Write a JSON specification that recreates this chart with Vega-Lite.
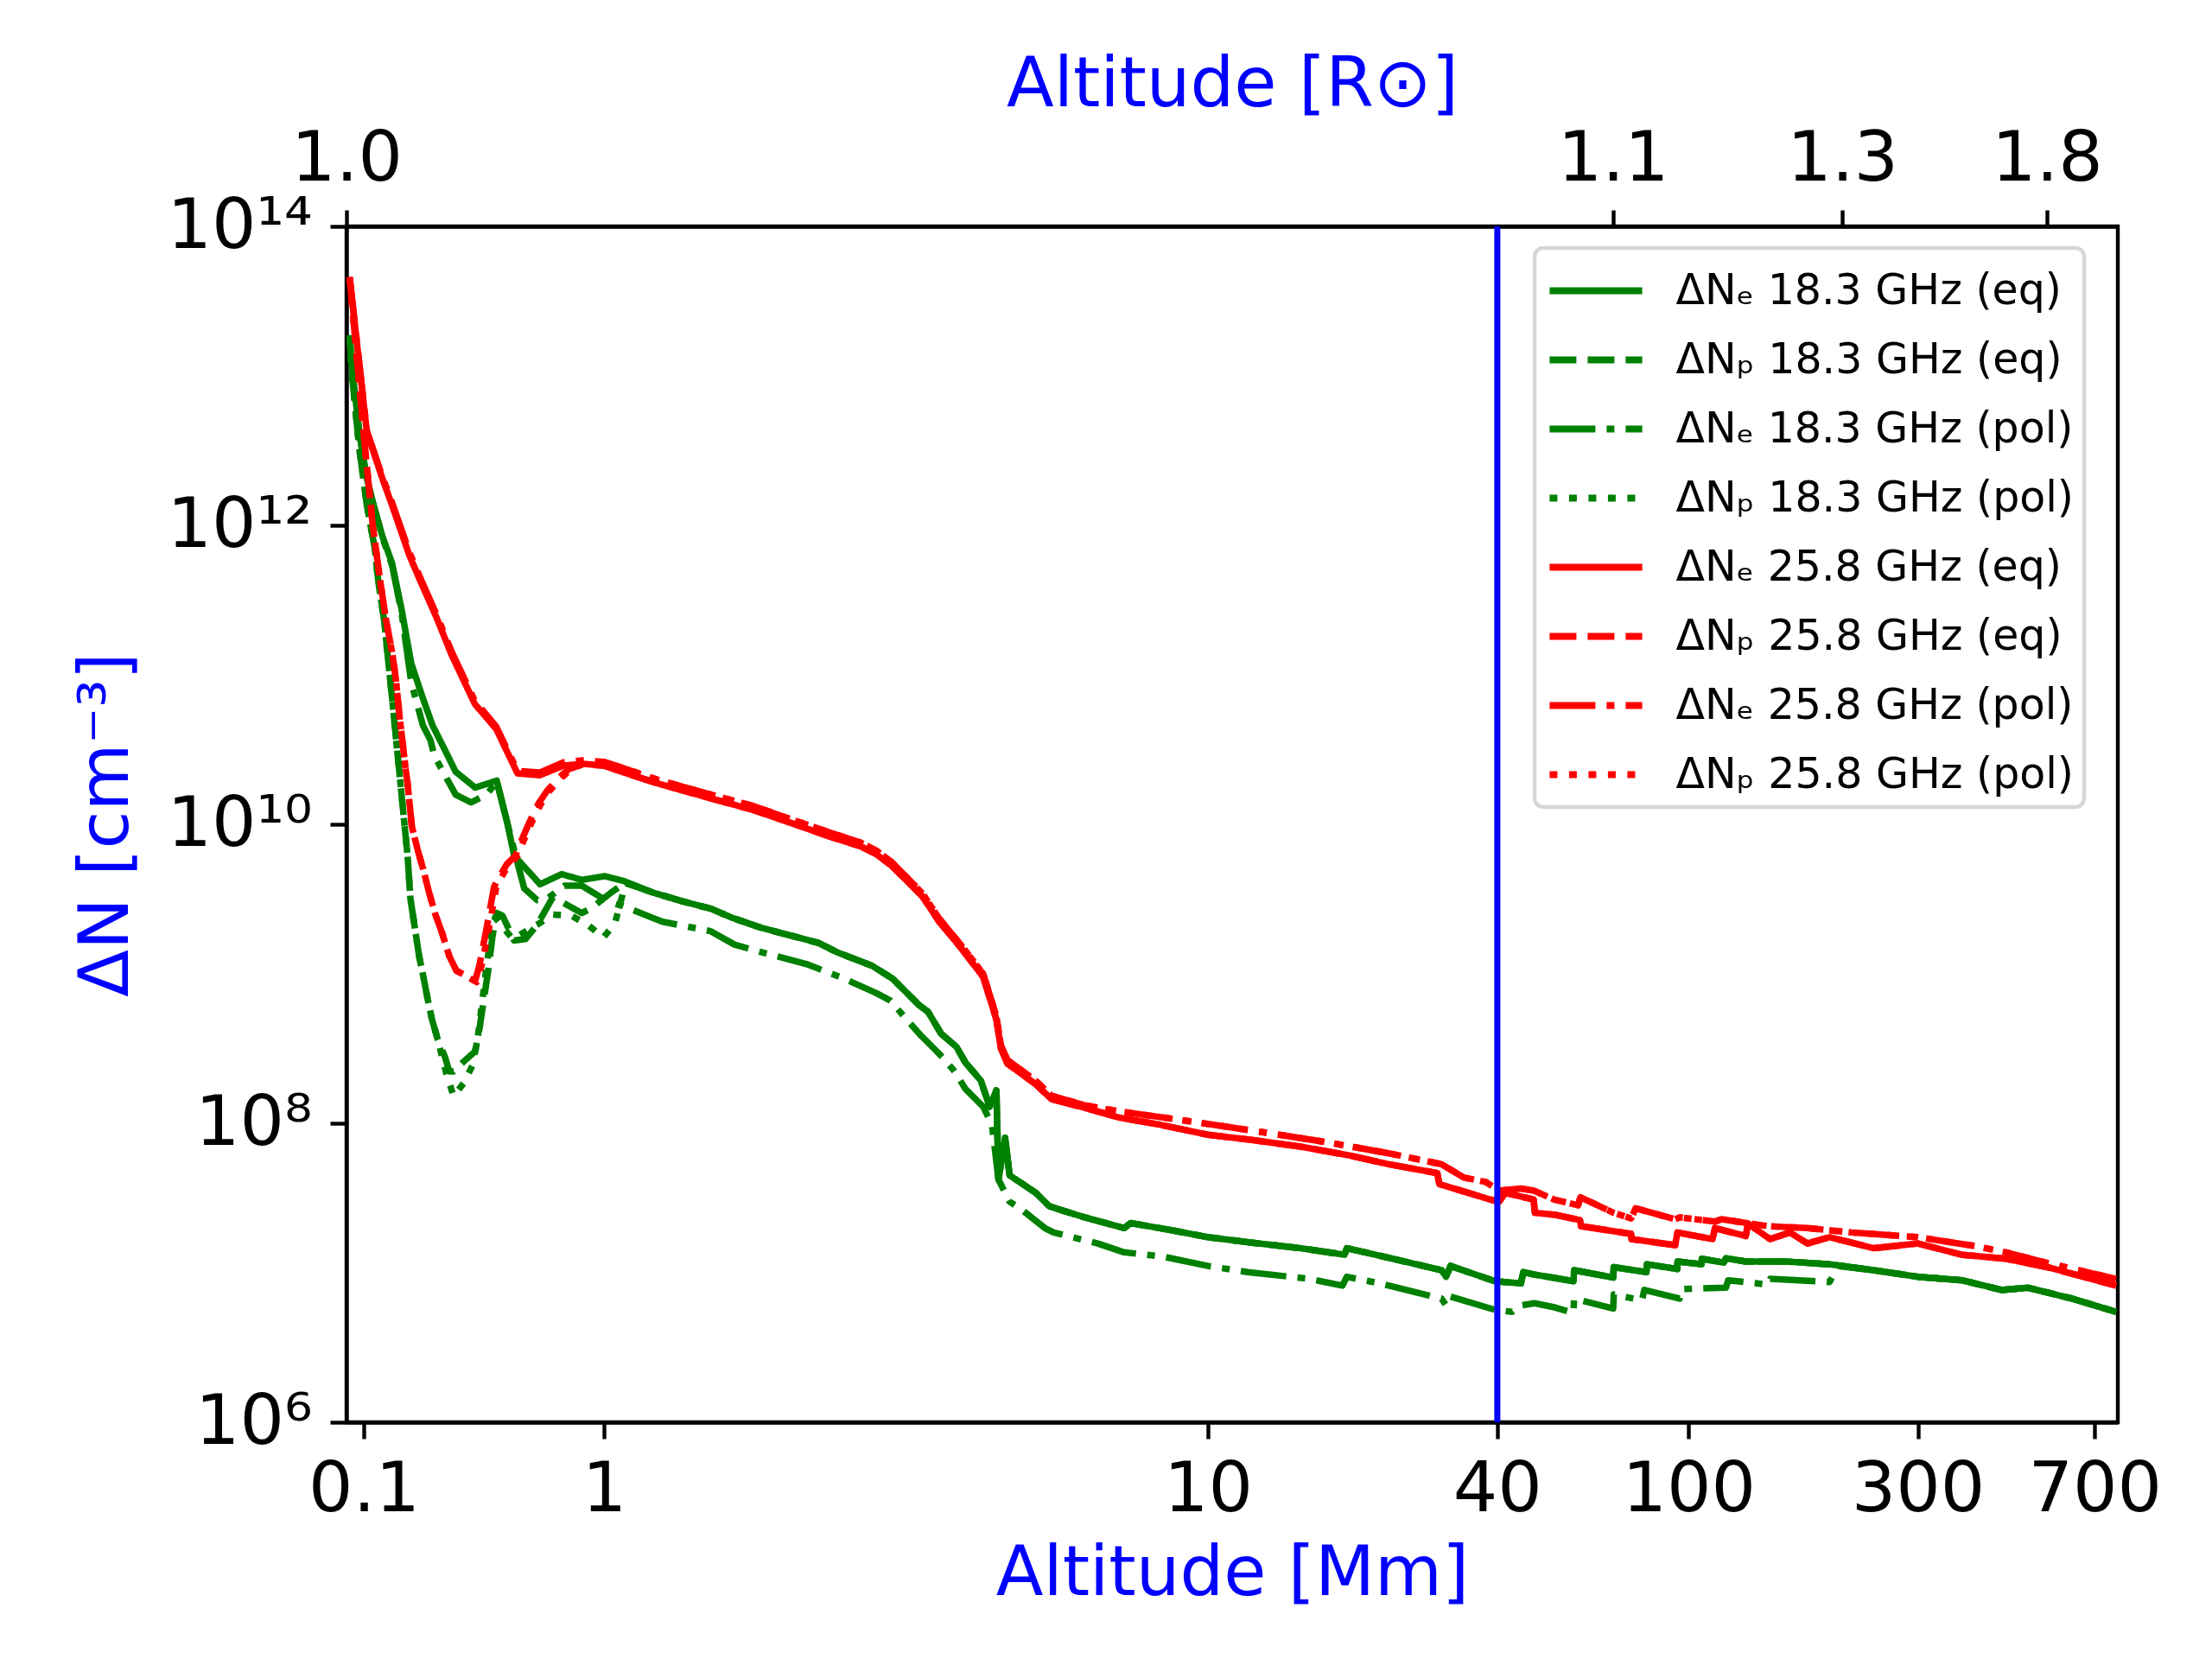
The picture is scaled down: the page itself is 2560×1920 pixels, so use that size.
{
"$schema": "https://vega.github.io/schema/vega-lite/v6.json",
"width": 2050, "height": 1384,
"autosize": {"type": "none"},
"padding": {"left": 401, "top": 262, "right": 109, "bottom": 274},
"background": "white",
"config": {
  "font": "DejaVu Sans",
  "view": {"stroke": "black", "strokeWidth": 4.4},
  "axis": {"grid": false, "domainColor": "black", "domainWidth": 4.4, "tickColor": "black", "tickWidth": 4.4, "tickSize": 19, "labelFont": "DejaVu Sans", "labelFontSize": 81, "labelColor": "black", "titleFont": "DejaVu Sans", "titleFontSize": 80, "titleColor": "#0000ff", "titleFontWeight": "normal", "labelFlush": false, "labelOverlap": false},
  "legend": {"strokeWidth": 4.4}
},
"layer": [
{
"data": {"values": [
{"s":"ΔNₑ 18.3 GHz (eq)","h":0.0873,"n":1.87e13},{"s":"ΔNₑ 18.3 GHz (eq)","h":0.0889,"n":1.23e13},{"s":"ΔNₑ 18.3 GHz (eq)","h":0.0957,"n":4.21e12},{"s":"ΔNₑ 18.3 GHz (eq)","h":0.103,"n":2.06e12},{"s":"ΔNₑ 18.3 GHz (eq)","h":0.1089,"n":1.44e12},{"s":"ΔNₑ 18.3 GHz (eq)","h":0.1195,"n":8.47e11},{"s":"ΔNₑ 18.3 GHz (eq)","h":0.1312,"n":5.58e11},{"s":"ΔNₑ 18.3 GHz (eq)","h":0.1437,"n":2.74e11},{"s":"ΔNₑ 18.3 GHz (eq)","h":0.1577,"n":1.19e11},{"s":"ΔNₑ 18.3 GHz (eq)","h":0.1762,"n":6.98e10},{"s":"ΔNₑ 18.3 GHz (eq)","h":0.1932,"n":4.6e10},{"s":"ΔNₑ 18.3 GHz (eq)","h":0.216,"n":3.22e10},{"s":"ΔNₑ 18.3 GHz (eq)","h":0.2412,"n":2.25e10},{"s":"ΔNₑ 18.3 GHz (eq)","h":0.291,"n":1.76e10},{"s":"ΔNₑ 18.3 GHz (eq)","h":0.358,"n":1.96e10},{"s":"ΔNₑ 18.3 GHz (eq)","h":0.3945,"n":1.05e10},{"s":"ΔNₑ 18.3 GHz (eq)","h":0.4225,"n":6.19e9},{"s":"ΔNₑ 18.3 GHz (eq)","h":0.5418,"n":3.97e9},{"s":"ΔNₑ 18.3 GHz (eq)","h":0.6664,"n":4.64e9},{"s":"ΔNₑ 18.3 GHz (eq)","h":0.8083,"n":4.25e9},{"s":"ΔNₑ 18.3 GHz (eq)","h":1.003,"n":4.5e9},{"s":"ΔNₑ 18.3 GHz (eq)","h":1.083,"n":4.15e9},
{"s":"ΔNₑ 18.3 GHz (eq)","h":1.209,"n":3.48e9},{"s":"ΔNₑ 18.3 GHz (eq)","h":1.35,"n":3.05e9},{"s":"ΔNₑ 18.3 GHz (eq)","h":1.506,"n":2.72e9},{"s":"ΔNₑ 18.3 GHz (eq)","h":1.626,"n":2.38e9},{"s":"ΔNₑ 18.3 GHz (eq)","h":1.815,"n":2.04e9},{"s":"ΔNₑ 18.3 GHz (eq)","h":2.264,"n":1.61e9},{"s":"ΔNₑ 18.3 GHz (eq)","h":2.436,"n":1.39e9},{"s":"ΔNₑ 18.3 GHz (eq)","h":2.781,"n":1.13e9},{"s":"ΔNₑ 18.3 GHz (eq)","h":3.006,"n":9.27e8},{"s":"ΔNₑ 18.3 GHz (eq)","h":3.325,"n":6.17e8},{"s":"ΔNₑ 18.3 GHz (eq)","h":3.439,"n":5.57e8},{"s":"ΔNₑ 18.3 GHz (eq)","h":3.617,"n":3.97e8},{"s":"ΔNₑ 18.3 GHz (eq)","h":3.835,"n":3.24e8},{"s":"ΔNₑ 18.3 GHz (eq)","h":3.966,"n":2.55e8},{"s":"ΔNₑ 18.3 GHz (eq)","h":4.207,"n":1.93e8},{"s":"ΔNₑ 18.3 GHz (eq)","h":4.351,"n":1.29e8},{"s":"ΔNₑ 18.3 GHz (eq)","h":4.464,"n":1.66e8},{"s":"ΔNₑ 18.3 GHz (eq)","h":4.5,"n":4.2e7},{"s":"ΔNₑ 18.3 GHz (eq)","h":4.616,"n":8e7},{"s":"ΔNₑ 18.3 GHz (eq)","h":4.694,"n":4.49e7},{"s":"ΔNₑ 18.3 GHz (eq)","h":5.19,"n":3.42e7},{"s":"ΔNₑ 18.3 GHz (eq)","h":5.46,"n":2.79e7},{"s":"ΔNₑ 18.3 GHz (eq)","h":5.741,"n":2.61e7},{"s":"ΔNₑ 18.3 GHz (eq)","h":6.245,"n":2.35e7},{"s":"ΔNₑ 18.3 GHz (eq)","h":7.264,"n":1.99e7},{"s":"ΔNₑ 18.3 GHz (eq)","h":7.45,"n":2.15e7},{"s":"ΔNₑ 18.3 GHz (eq)","h":8.74,"n":1.92e7},{"s":"ΔNₑ 18.3 GHz (eq)","h":10,"n":1.73e7},{"s":"ΔNₑ 18.3 GHz (eq)","h":12.35,"n":1.59e7},{"s":"ΔNₑ 18.3 GHz (eq)","h":15.58,"n":1.46e7},{"s":"ΔNₑ 18.3 GHz (eq)","h":19.25,"n":1.32e7},{"s":"ΔNₑ 18.3 GHz (eq)","h":19.45,"n":1.46e7},{"s":"ΔNₑ 18.3 GHz (eq)","h":24.28,"n":1.24e7},{"s":"ΔNₑ 18.3 GHz (eq)","h":30.64,"n":1.04e7},{"s":"ΔNₑ 18.3 GHz (eq)","h":31.3,"n":9.4e6},{"s":"ΔNₑ 18.3 GHz (eq)","h":31.97,"n":1.11e7},{"s":"ΔNₑ 18.3 GHz (eq)","h":39.5,"n":8.79e6},{"s":"ΔNₑ 18.3 GHz (eq)","h":44.8,"n":8.49e6},{"s":"ΔNₑ 18.3 GHz (eq)","h":45.3,"n":1.01e7},{"s":"ΔNₑ 18.3 GHz (eq)","h":47.76,"n":9.73e6},{"s":"ΔNₑ 18.3 GHz (eq)","h":57.6,"n":8.79e6},{"s":"ΔNₑ 18.3 GHz (eq)","h":57.8,"n":1.04e7},{"s":"ΔNₑ 18.3 GHz (eq)","h":69.7,"n":9.29e6},{"s":"ΔNₑ 18.3 GHz (eq)","h":69.9,"n":1.09e7},{"s":"ΔNₑ 18.3 GHz (eq)","h":81.7,"n":1.01e7},{"s":"ΔNₑ 18.3 GHz (eq)","h":81.9,"n":1.14e7},{"s":"ΔNₑ 18.3 GHz (eq)","h":94.7,"n":1.06e7},{"s":"ΔNₑ 18.3 GHz (eq)","h":94.9,"n":1.19e7},{"s":"ΔNₑ 18.3 GHz (eq)","h":106.4,"n":1.14e7},{"s":"ΔNₑ 18.3 GHz (eq)","h":106.6,"n":1.24e7},{"s":"ΔNₑ 18.3 GHz (eq)","h":118.4,"n":1.17e7},{"s":"ΔNₑ 18.3 GHz (eq)","h":119.6,"n":1.25e7},{"s":"ΔNₑ 18.3 GHz (eq)","h":131.5,"n":1.19e7},{"s":"ΔNₑ 18.3 GHz (eq)","h":159.1,"n":1.19e7},{"s":"ΔNₑ 18.3 GHz (eq)","h":196.5,"n":1.14e7},{"s":"ΔNₑ 18.3 GHz (eq)","h":242.8,"n":1.04e7},{"s":"ΔNₑ 18.3 GHz (eq)","h":299.9,"n":9.4e6},{"s":"ΔNₑ 18.3 GHz (eq)","h":370.5,"n":8.91e6},{"s":"ΔNₑ 18.3 GHz (eq)","h":448,"n":7.67e6},{"s":"ΔNₑ 18.3 GHz (eq)","h":508.4,"n":7.94e6},{"s":"ΔNₑ 18.3 GHz (eq)","h":628.5,"n":6.71e6},{"s":"ΔNₑ 18.3 GHz (eq)","h":776,"n":5.47e6},

{"s":"ΔNₚ 18.3 GHz (eq)","h":0.0873,"n":1.87e13},{"s":"ΔNₚ 18.3 GHz (eq)","h":0.0889,"n":1.09e13},{"s":"ΔNₚ 18.3 GHz (eq)","h":0.0957,"n":3.32e12},{"s":"ΔNₚ 18.3 GHz (eq)","h":0.103,"n":1.36e12},{"s":"ΔNₚ 18.3 GHz (eq)","h":0.111,"n":7.08e11},{"s":"ΔNₚ 18.3 GHz (eq)","h":0.1151,"n":4.15e11},{"s":"ΔNₚ 18.3 GHz (eq)","h":0.1217,"n":2.29e11},{"s":"ΔNₚ 18.3 GHz (eq)","h":0.1263,"n":1.26e11},{"s":"ΔNₚ 18.3 GHz (eq)","h":0.1312,"n":6.98e10},{"s":"ΔNₚ 18.3 GHz (eq)","h":0.136,"n":3.85e10},{"s":"ΔNₚ 18.3 GHz (eq)","h":0.1411,"n":2.13e10},{"s":"ΔNₚ 18.3 GHz (eq)","h":0.148,"n":9.64e9},{"s":"ΔNₚ 18.3 GHz (eq)","h":0.1522,"n":6.19e9},{"s":"ΔNₚ 18.3 GHz (eq)","h":0.1564,"n":3.18e9},{"s":"ΔNₚ 18.3 GHz (eq)","h":0.1631,"n":2.04e9},{"s":"ΔNₚ 18.3 GHz (eq)","h":0.17,"n":1.31e9},{"s":"ΔNₚ 18.3 GHz (eq)","h":0.177,"n":9.61e8},{"s":"ΔNₚ 18.3 GHz (eq)","h":0.1846,"n":6.73e8},{"s":"ΔNₚ 18.3 GHz (eq)","h":0.1924,"n":4.94e8},{"s":"ΔNₚ 18.3 GHz (eq)","h":0.2034,"n":3.62e8},{"s":"ΔNₚ 18.3 GHz (eq)","h":0.218,"n":2.77e8},{"s":"ΔNₚ 18.3 GHz (eq)","h":0.227,"n":2.22e8},{"s":"ΔNₚ 18.3 GHz (eq)","h":0.2366,"n":2.22e8},{"s":"ΔNₚ 18.3 GHz (eq)","h":0.2608,"n":2.59e8},{"s":"ΔNₚ 18.3 GHz (eq)","h":0.291,"n":3.03e8},{"s":"ΔNₚ 18.3 GHz (eq)","h":0.3034,"n":4.32e8},{"s":"ΔNₚ 18.3 GHz (eq)","h":0.3162,"n":6.73e8},{"s":"ΔNₚ 18.3 GHz (eq)","h":0.3296,"n":1.05e9},{"s":"ΔNₚ 18.3 GHz (eq)","h":0.3436,"n":1.79e9},{"s":"ΔNₚ 18.3 GHz (eq)","h":0.358,"n":2.55e9},{"s":"ΔNₚ 18.3 GHz (eq)","h":0.3785,"n":2.44e9},{"s":"ΔNₚ 18.3 GHz (eq)","h":0.4225,"n":1.67e9},{"s":"ΔNₚ 18.3 GHz (eq)","h":0.4719,"n":1.71e9},{"s":"ΔNₚ 18.3 GHz (eq)","h":0.5272,"n":2.13e9},{"s":"ΔNₚ 18.3 GHz (eq)","h":0.6134,"n":3.26e9},{"s":"ΔNₚ 18.3 GHz (eq)","h":0.8083,"n":2.55e9},{"s":"ΔNₚ 18.3 GHz (eq)","h":0.8905,"n":2.76e9},{"s":"ΔNₚ 18.3 GHz (eq)","h":1.026,"n":3.48e9},{"s":"ΔNₚ 18.3 GHz (eq)","h":1.083,"n":4.06e9},
{"s":"ΔNₚ 18.3 GHz (eq)","h":1.209,"n":3.48e9},{"s":"ΔNₚ 18.3 GHz (eq)","h":1.35,"n":3.05e9},{"s":"ΔNₚ 18.3 GHz (eq)","h":1.506,"n":2.72e9},{"s":"ΔNₚ 18.3 GHz (eq)","h":1.626,"n":2.38e9},{"s":"ΔNₚ 18.3 GHz (eq)","h":1.815,"n":2.04e9},{"s":"ΔNₚ 18.3 GHz (eq)","h":2.264,"n":1.61e9},{"s":"ΔNₚ 18.3 GHz (eq)","h":2.436,"n":1.39e9},{"s":"ΔNₚ 18.3 GHz (eq)","h":2.781,"n":1.13e9},{"s":"ΔNₚ 18.3 GHz (eq)","h":3.006,"n":9.27e8},{"s":"ΔNₚ 18.3 GHz (eq)","h":3.325,"n":6.17e8},{"s":"ΔNₚ 18.3 GHz (eq)","h":3.439,"n":5.57e8},{"s":"ΔNₚ 18.3 GHz (eq)","h":3.617,"n":3.97e8},{"s":"ΔNₚ 18.3 GHz (eq)","h":3.835,"n":3.24e8},{"s":"ΔNₚ 18.3 GHz (eq)","h":3.966,"n":2.55e8},{"s":"ΔNₚ 18.3 GHz (eq)","h":4.207,"n":1.93e8},{"s":"ΔNₚ 18.3 GHz (eq)","h":4.351,"n":1.29e8},{"s":"ΔNₚ 18.3 GHz (eq)","h":4.464,"n":1.66e8},{"s":"ΔNₚ 18.3 GHz (eq)","h":4.5,"n":4.2e7},{"s":"ΔNₚ 18.3 GHz (eq)","h":4.616,"n":8e7},{"s":"ΔNₚ 18.3 GHz (eq)","h":4.694,"n":4.49e7},{"s":"ΔNₚ 18.3 GHz (eq)","h":5.19,"n":3.42e7},{"s":"ΔNₚ 18.3 GHz (eq)","h":5.46,"n":2.79e7},{"s":"ΔNₚ 18.3 GHz (eq)","h":5.741,"n":2.61e7},{"s":"ΔNₚ 18.3 GHz (eq)","h":6.245,"n":2.35e7},{"s":"ΔNₚ 18.3 GHz (eq)","h":7.264,"n":1.99e7},{"s":"ΔNₚ 18.3 GHz (eq)","h":7.45,"n":2.15e7},{"s":"ΔNₚ 18.3 GHz (eq)","h":8.74,"n":1.92e7},{"s":"ΔNₚ 18.3 GHz (eq)","h":10,"n":1.73e7},{"s":"ΔNₚ 18.3 GHz (eq)","h":12.35,"n":1.59e7},{"s":"ΔNₚ 18.3 GHz (eq)","h":15.58,"n":1.46e7},{"s":"ΔNₚ 18.3 GHz (eq)","h":19.25,"n":1.32e7},{"s":"ΔNₚ 18.3 GHz (eq)","h":19.45,"n":1.46e7},{"s":"ΔNₚ 18.3 GHz (eq)","h":24.28,"n":1.24e7},{"s":"ΔNₚ 18.3 GHz (eq)","h":30.64,"n":1.04e7},{"s":"ΔNₚ 18.3 GHz (eq)","h":31.3,"n":9.4e6},{"s":"ΔNₚ 18.3 GHz (eq)","h":31.97,"n":1.11e7},{"s":"ΔNₚ 18.3 GHz (eq)","h":39.5,"n":8.79e6},{"s":"ΔNₚ 18.3 GHz (eq)","h":44.8,"n":8.49e6},{"s":"ΔNₚ 18.3 GHz (eq)","h":45.3,"n":1.01e7},{"s":"ΔNₚ 18.3 GHz (eq)","h":47.76,"n":9.73e6},{"s":"ΔNₚ 18.3 GHz (eq)","h":57.6,"n":8.79e6},{"s":"ΔNₚ 18.3 GHz (eq)","h":57.8,"n":1.04e7},{"s":"ΔNₚ 18.3 GHz (eq)","h":69.7,"n":9.29e6},{"s":"ΔNₚ 18.3 GHz (eq)","h":69.9,"n":1.09e7},{"s":"ΔNₚ 18.3 GHz (eq)","h":81.7,"n":1.01e7},{"s":"ΔNₚ 18.3 GHz (eq)","h":81.9,"n":1.14e7},{"s":"ΔNₚ 18.3 GHz (eq)","h":94.7,"n":1.06e7},{"s":"ΔNₚ 18.3 GHz (eq)","h":94.9,"n":1.19e7},{"s":"ΔNₚ 18.3 GHz (eq)","h":106.4,"n":1.14e7},{"s":"ΔNₚ 18.3 GHz (eq)","h":106.6,"n":1.24e7},{"s":"ΔNₚ 18.3 GHz (eq)","h":118.4,"n":1.17e7},{"s":"ΔNₚ 18.3 GHz (eq)","h":119.6,"n":1.25e7},{"s":"ΔNₚ 18.3 GHz (eq)","h":131.5,"n":1.19e7},{"s":"ΔNₚ 18.3 GHz (eq)","h":159.1,"n":1.19e7},{"s":"ΔNₚ 18.3 GHz (eq)","h":196.5,"n":1.14e7},{"s":"ΔNₚ 18.3 GHz (eq)","h":242.8,"n":1.04e7},{"s":"ΔNₚ 18.3 GHz (eq)","h":299.9,"n":9.4e6},{"s":"ΔNₚ 18.3 GHz (eq)","h":370.5,"n":8.91e6},{"s":"ΔNₚ 18.3 GHz (eq)","h":448,"n":7.67e6},{"s":"ΔNₚ 18.3 GHz (eq)","h":508.4,"n":7.94e6},{"s":"ΔNₚ 18.3 GHz (eq)","h":628.5,"n":6.71e6},{"s":"ΔNₚ 18.3 GHz (eq)","h":776,"n":5.47e6},

{"s":"ΔNₑ 18.3 GHz (pol)","h":0.0873,"n":1.87e13},{"s":"ΔNₑ 18.3 GHz (pol)","h":0.0889,"n":1.23e13},{"s":"ΔNₑ 18.3 GHz (pol)","h":0.0957,"n":4.21e12},{"s":"ΔNₑ 18.3 GHz (pol)","h":0.103,"n":2.06e12},{"s":"ΔNₑ 18.3 GHz (pol)","h":0.1089,"n":1.44e12},{"s":"ΔNₑ 18.3 GHz (pol)","h":0.1195,"n":8.3e11},{"s":"ΔNₑ 18.3 GHz (pol)","h":0.1312,"n":5.4e11},{"s":"ΔNₑ 18.3 GHz (pol)","h":0.1437,"n":2.6e11},{"s":"ΔNₑ 18.3 GHz (pol)","h":0.1577,"n":8.87e10},{"s":"ΔNₑ 18.3 GHz (pol)","h":0.1762,"n":4.6e10},{"s":"ΔNₑ 18.3 GHz (pol)","h":0.1897,"n":3.64e10},{"s":"ΔNₑ 18.3 GHz (pol)","h":0.1969,"n":2.86e10},{"s":"ΔNₑ 18.3 GHz (pol)","h":0.2412,"n":1.58e10},{"s":"ΔNₑ 18.3 GHz (pol)","h":0.2798,"n":1.4e10},{"s":"ΔNₑ 18.3 GHz (pol)","h":0.324,"n":1.58e10},{"s":"ΔNₑ 18.3 GHz (pol)","h":0.358,"n":1.92e10},{"s":"ΔNₑ 18.3 GHz (pol)","h":0.4285,"n":6.19e9},{"s":"ΔNₑ 18.3 GHz (pol)","h":0.4656,"n":3.72e9},{"s":"ΔNₑ 18.3 GHz (pol)","h":0.5272,"n":3.11e9},{"s":"ΔNₑ 18.3 GHz (pol)","h":0.58,"n":3.18e9},{"s":"ΔNₑ 18.3 GHz (pol)","h":0.6848,"n":3.89e9},{"s":"ΔNₑ 18.3 GHz (pol)","h":0.8083,"n":3.89e9},{"s":"ΔNₑ 18.3 GHz (pol)","h":1.014,"n":3.05e9},{"s":"ΔNₑ 18.3 GHz (pol)","h":1.072,"n":2.85e9},{"s":"ΔNₑ 18.3 GHz (pol)","h":1.25,"n":2.23e9},{"s":"ΔNₑ 18.3 GHz (pol)","h":1.5,"n":1.93e9},{"s":"ΔNₑ 18.3 GHz (pol)","h":1.644,"n":1.57e9},{"s":"ΔNₑ 18.3 GHz (pol)","h":1.815,"n":1.4e9},{"s":"ΔNₑ 18.3 GHz (pol)","h":2.166,"n":1.16e9},{"s":"ΔNₑ 18.3 GHz (pol)","h":2.472,"n":9.44e8},{"s":"ΔNₑ 18.3 GHz (pol)","h":2.82,"n":7.45e8},{"s":"ΔNₑ 18.3 GHz (pol)","h":2.981,"n":6.61e8},{"s":"ΔNₑ 18.3 GHz (pol)","h":3.135,"n":5.21e8},{"s":"ΔNₑ 18.3 GHz (pol)","h":3.353,"n":3.84e8},{"s":"ΔNₑ 18.3 GHz (pol)","h":3.497,"n":3.24e8},{"s":"ΔNₑ 18.3 GHz (pol)","h":3.647,"n":2.73e8},{"s":"ΔNₑ 18.3 GHz (pol)","h":3.804,"n":2.23e8},{"s":"ΔNₑ 18.3 GHz (pol)","h":3.966,"n":1.7e8},{"s":"ΔNₑ 18.3 GHz (pol)","h":4.245,"n":1.29e8},{"s":"ΔNₑ 18.3 GHz (pol)","h":4.388,"n":9.8e7},{"s":"ΔNₑ 18.3 GHz (pol)","h":4.5,"n":4.2e7},{"s":"ΔNₑ 18.3 GHz (pol)","h":4.694,"n":2.99e7},{"s":"ΔNₑ 18.3 GHz (pol)","h":4.936,"n":2.61e7},{"s":"ΔNₑ 18.3 GHz (pol)","h":5.37,"n":1.99e7},{"s":"ΔNₑ 18.3 GHz (pol)","h":5.553,"n":1.86e7},{"s":"ΔNₑ 18.3 GHz (pol)","h":6.57,"n":1.57e7},{"s":"ΔNₑ 18.3 GHz (pol)","h":7.264,"n":1.37e7},{"s":"ΔNₑ 18.3 GHz (pol)","h":8.45,"n":1.28e7},{"s":"ΔNₑ 18.3 GHz (pol)","h":10,"n":1.11e7},{"s":"ΔNₑ 18.3 GHz (pol)","h":12.1,"n":1.01e7},{"s":"ΔNₑ 18.3 GHz (pol)","h":16.26,"n":9.1e6},{"s":"ΔNₑ 18.3 GHz (pol)","h":19.05,"n":8.2e6},{"s":"ΔNₑ 18.3 GHz (pol)","h":19.45,"n":9.4e6},{"s":"ΔNₑ 18.3 GHz (pol)","h":22.8,"n":8.49e6},{"s":"ΔNₑ 18.3 GHz (pol)","h":30.64,"n":6.71e6},{"s":"ΔNₑ 18.3 GHz (pol)","h":31.3,"n":6.05e6},{"s":"ΔNₑ 18.3 GHz (pol)","h":31.97,"n":6.93e6},{"s":"ΔNₑ 18.3 GHz (pol)","h":39.5,"n":5.66e6},{"s":"ΔNₑ 18.3 GHz (pol)","h":42.96,"n":5.47e6},{"s":"ΔNₑ 18.3 GHz (pol)","h":44.8,"n":6.05e6},{"s":"ΔNₑ 18.3 GHz (pol)","h":47.76,"n":6.26e6},{"s":"ΔNₑ 18.3 GHz (pol)","h":52.85,"n":5.85e6},{"s":"ΔNₑ 18.3 GHz (pol)","h":57.6,"n":5.39e6},{"s":"ΔNₑ 18.3 GHz (pol)","h":57.8,"n":6.71e6},{"s":"ΔNₑ 18.3 GHz (pol)","h":69.7,"n":5.77e6},{"s":"ΔNₑ 18.3 GHz (pol)","h":69.9,"n":7.16e6},{"s":"ΔNₑ 18.3 GHz (pol)","h":80,"n":6.53e6},{"s":"ΔNₑ 18.3 GHz (pol)","h":80.9,"n":7.67e6},{"s":"ΔNₑ 18.3 GHz (pol)","h":95.8,"n":6.71e6},{"s":"ΔNₑ 18.3 GHz (pol)","h":96.8,"n":7.78e6},{"s":"ΔNₑ 18.3 GHz (pol)","h":119.6,"n":7.94e6},{"s":"ΔNₑ 18.3 GHz (pol)","h":120.9,"n":8.91e6},{"s":"ΔNₑ 18.3 GHz (pol)","h":146.2,"n":8.34e6},{"s":"ΔNₑ 18.3 GHz (pol)","h":147.8,"n":9.1e6},{"s":"ΔNₑ 18.3 GHz (pol)","h":196.5,"n":8.67e6},{"s":"ΔNₑ 18.3 GHz (pol)","h":205,"n":1.11e7},{"s":"ΔNₑ 18.3 GHz (pol)","h":242.8,"n":1.04e7},{"s":"ΔNₑ 18.3 GHz (pol)","h":299.9,"n":9.4e6},{"s":"ΔNₑ 18.3 GHz (pol)","h":370.5,"n":8.91e6},{"s":"ΔNₑ 18.3 GHz (pol)","h":448,"n":7.67e6},{"s":"ΔNₑ 18.3 GHz (pol)","h":508.4,"n":7.94e6},{"s":"ΔNₑ 18.3 GHz (pol)","h":628.5,"n":6.71e6},{"s":"ΔNₑ 18.3 GHz (pol)","h":776,"n":5.47e6},

{"s":"ΔNₚ 18.3 GHz (pol)","h":0.0873,"n":1.87e13},{"s":"ΔNₚ 18.3 GHz (pol)","h":0.0889,"n":1.09e13},{"s":"ΔNₚ 18.3 GHz (pol)","h":0.0957,"n":3.32e12},{"s":"ΔNₚ 18.3 GHz (pol)","h":0.103,"n":1.36e12},{"s":"ΔNₚ 18.3 GHz (pol)","h":0.111,"n":7.08e11},{"s":"ΔNₚ 18.3 GHz (pol)","h":0.1151,"n":4.15e11},{"s":"ΔNₚ 18.3 GHz (pol)","h":0.1217,"n":2.29e11},{"s":"ΔNₚ 18.3 GHz (pol)","h":0.1263,"n":1.26e11},{"s":"ΔNₚ 18.3 GHz (pol)","h":0.1312,"n":6.98e10},{"s":"ΔNₚ 18.3 GHz (pol)","h":0.136,"n":3.85e10},{"s":"ΔNₚ 18.3 GHz (pol)","h":0.1411,"n":2.13e10},{"s":"ΔNₚ 18.3 GHz (pol)","h":0.148,"n":9.64e9},{"s":"ΔNₚ 18.3 GHz (pol)","h":0.1522,"n":6.19e9},{"s":"ΔNₚ 18.3 GHz (pol)","h":0.1564,"n":3.18e9},{"s":"ΔNₚ 18.3 GHz (pol)","h":0.1631,"n":2.04e9},{"s":"ΔNₚ 18.3 GHz (pol)","h":0.17,"n":1.31e9},{"s":"ΔNₚ 18.3 GHz (pol)","h":0.177,"n":9.61e8},{"s":"ΔNₚ 18.3 GHz (pol)","h":0.1846,"n":6.73e8},{"s":"ΔNₚ 18.3 GHz (pol)","h":0.1924,"n":4.94e8},{"s":"ΔNₚ 18.3 GHz (pol)","h":0.2034,"n":3.62e8},{"s":"ΔNₚ 18.3 GHz (pol)","h":0.2209,"n":2.13e8},{"s":"ΔNₚ 18.3 GHz (pol)","h":0.2366,"n":1.52e8},{"s":"ΔNₚ 18.3 GHz (pol)","h":0.2608,"n":1.86e8},{"s":"ΔNₚ 18.3 GHz (pol)","h":0.2833,"n":2.43e8},{"s":"ΔNₚ 18.3 GHz (pol)","h":0.2984,"n":3.78e8},{"s":"ΔNₚ 18.3 GHz (pol)","h":0.311,"n":6.44e8},{"s":"ΔNₚ 18.3 GHz (pol)","h":0.324,"n":1.1e9},{"s":"ΔNₚ 18.3 GHz (pol)","h":0.3379,"n":1.8e9},{"s":"ΔNₚ 18.3 GHz (pol)","h":0.3523,"n":2.38e9},{"s":"ΔNₚ 18.3 GHz (pol)","h":0.4168,"n":1.71e9},{"s":"ΔNₚ 18.3 GHz (pol)","h":0.5272,"n":2.13e9},{"s":"ΔNₚ 18.3 GHz (pol)","h":0.6134,"n":2.49e9},{"s":"ΔNₚ 18.3 GHz (pol)","h":0.7339,"n":2.44e9},{"s":"ΔNₚ 18.3 GHz (pol)","h":0.8545,"n":2.13e9},{"s":"ΔNₚ 18.3 GHz (pol)","h":0.9942,"n":1.75e9},{"s":"ΔNₚ 18.3 GHz (pol)","h":1.043,"n":2.18e9},{"s":"ΔNₚ 18.3 GHz (pol)","h":1.086,"n":4.05e9},
{"s":"ΔNₚ 18.3 GHz (pol)","h":1.209,"n":3.48e9},{"s":"ΔNₚ 18.3 GHz (pol)","h":1.35,"n":3.05e9},{"s":"ΔNₚ 18.3 GHz (pol)","h":1.506,"n":2.72e9},{"s":"ΔNₚ 18.3 GHz (pol)","h":1.626,"n":2.38e9},{"s":"ΔNₚ 18.3 GHz (pol)","h":1.815,"n":2.04e9},{"s":"ΔNₚ 18.3 GHz (pol)","h":2.264,"n":1.61e9},{"s":"ΔNₚ 18.3 GHz (pol)","h":2.436,"n":1.39e9},{"s":"ΔNₚ 18.3 GHz (pol)","h":2.781,"n":1.13e9},{"s":"ΔNₚ 18.3 GHz (pol)","h":3.006,"n":9.27e8},{"s":"ΔNₚ 18.3 GHz (pol)","h":3.325,"n":6.17e8},{"s":"ΔNₚ 18.3 GHz (pol)","h":3.439,"n":5.57e8},{"s":"ΔNₚ 18.3 GHz (pol)","h":3.617,"n":3.97e8},{"s":"ΔNₚ 18.3 GHz (pol)","h":3.835,"n":3.24e8},{"s":"ΔNₚ 18.3 GHz (pol)","h":3.966,"n":2.55e8},{"s":"ΔNₚ 18.3 GHz (pol)","h":4.207,"n":1.93e8},{"s":"ΔNₚ 18.3 GHz (pol)","h":4.351,"n":1.29e8},{"s":"ΔNₚ 18.3 GHz (pol)","h":4.464,"n":1.66e8},{"s":"ΔNₚ 18.3 GHz (pol)","h":4.5,"n":4.2e7},{"s":"ΔNₚ 18.3 GHz (pol)","h":4.616,"n":8e7},{"s":"ΔNₚ 18.3 GHz (pol)","h":4.694,"n":4.49e7},{"s":"ΔNₚ 18.3 GHz (pol)","h":5.19,"n":3.42e7},{"s":"ΔNₚ 18.3 GHz (pol)","h":5.46,"n":2.79e7},{"s":"ΔNₚ 18.3 GHz (pol)","h":5.741,"n":2.61e7},{"s":"ΔNₚ 18.3 GHz (pol)","h":6.245,"n":2.35e7},{"s":"ΔNₚ 18.3 GHz (pol)","h":7.264,"n":1.99e7},{"s":"ΔNₚ 18.3 GHz (pol)","h":7.45,"n":2.15e7},{"s":"ΔNₚ 18.3 GHz (pol)","h":8.74,"n":1.92e7},{"s":"ΔNₚ 18.3 GHz (pol)","h":10,"n":1.73e7},{"s":"ΔNₚ 18.3 GHz (pol)","h":12.35,"n":1.59e7},{"s":"ΔNₚ 18.3 GHz (pol)","h":15.58,"n":1.46e7},{"s":"ΔNₚ 18.3 GHz (pol)","h":19.25,"n":1.32e7},{"s":"ΔNₚ 18.3 GHz (pol)","h":19.45,"n":1.46e7},{"s":"ΔNₚ 18.3 GHz (pol)","h":24.28,"n":1.24e7},{"s":"ΔNₚ 18.3 GHz (pol)","h":30.64,"n":1.04e7},{"s":"ΔNₚ 18.3 GHz (pol)","h":31.3,"n":9.4e6},{"s":"ΔNₚ 18.3 GHz (pol)","h":31.97,"n":1.11e7},{"s":"ΔNₚ 18.3 GHz (pol)","h":39.5,"n":8.79e6},{"s":"ΔNₚ 18.3 GHz (pol)","h":44.8,"n":8.49e6},{"s":"ΔNₚ 18.3 GHz (pol)","h":45.3,"n":1.01e7},{"s":"ΔNₚ 18.3 GHz (pol)","h":47.76,"n":9.73e6},{"s":"ΔNₚ 18.3 GHz (pol)","h":57.6,"n":8.79e6},{"s":"ΔNₚ 18.3 GHz (pol)","h":57.8,"n":1.04e7},{"s":"ΔNₚ 18.3 GHz (pol)","h":69.7,"n":9.29e6},{"s":"ΔNₚ 18.3 GHz (pol)","h":69.9,"n":1.09e7},{"s":"ΔNₚ 18.3 GHz (pol)","h":81.7,"n":1.01e7},{"s":"ΔNₚ 18.3 GHz (pol)","h":81.9,"n":1.14e7},{"s":"ΔNₚ 18.3 GHz (pol)","h":94.7,"n":1.06e7},{"s":"ΔNₚ 18.3 GHz (pol)","h":94.9,"n":1.19e7},{"s":"ΔNₚ 18.3 GHz (pol)","h":106.4,"n":1.14e7},{"s":"ΔNₚ 18.3 GHz (pol)","h":106.6,"n":1.24e7},{"s":"ΔNₚ 18.3 GHz (pol)","h":118.4,"n":1.17e7},{"s":"ΔNₚ 18.3 GHz (pol)","h":119.6,"n":1.25e7},{"s":"ΔNₚ 18.3 GHz (pol)","h":131.5,"n":1.19e7},{"s":"ΔNₚ 18.3 GHz (pol)","h":159.1,"n":1.19e7},{"s":"ΔNₚ 18.3 GHz (pol)","h":196.5,"n":1.14e7},{"s":"ΔNₚ 18.3 GHz (pol)","h":242.8,"n":1.04e7},{"s":"ΔNₚ 18.3 GHz (pol)","h":299.9,"n":9.4e6},{"s":"ΔNₚ 18.3 GHz (pol)","h":370.5,"n":8.91e6},{"s":"ΔNₚ 18.3 GHz (pol)","h":448,"n":7.67e6},{"s":"ΔNₚ 18.3 GHz (pol)","h":508.4,"n":7.94e6},{"s":"ΔNₚ 18.3 GHz (pol)","h":628.5,"n":6.71e6},{"s":"ΔNₚ 18.3 GHz (pol)","h":776,"n":5.47e6},

{"s":"ΔNₑ 25.8 GHz (eq)","h":0.0873,"n":4.54e13},{"s":"ΔNₑ 25.8 GHz (eq)","h":0.103,"n":4.21e12},{"s":"ΔNₑ 25.8 GHz (eq)","h":0.1195,"n":2.06e12},{"s":"ΔNₑ 25.8 GHz (eq)","h":0.1312,"n":1.36e12},{"s":"ΔNₑ 25.8 GHz (eq)","h":0.1549,"n":6.28e11},{"s":"ΔNₑ 25.8 GHz (eq)","h":0.173,"n":4.15e11},{"s":"ΔNₑ 25.8 GHz (eq)","h":0.2005,"n":2.43e11},{"s":"ΔNₑ 25.8 GHz (eq)","h":0.233,"n":1.34e11},{"s":"ΔNₑ 25.8 GHz (eq)","h":0.29,"n":6.38e10},{"s":"ΔNₑ 25.8 GHz (eq)","h":0.356,"n":4.34e10},{"s":"ΔNₑ 25.8 GHz (eq)","h":0.4365,"n":2.19e10},{"s":"ΔNₑ 25.8 GHz (eq)","h":0.54,"n":2.13e10},{"s":"ΔNₑ 25.8 GHz (eq)","h":0.679,"n":2.47e10},{"s":"ΔNₑ 25.8 GHz (eq)","h":0.817,"n":2.54e10},
{"s":"ΔNₑ 25.8 GHz (eq)","h":1.0,"n":2.47e10},{"s":"ΔNₑ 25.8 GHz (eq)","h":1.069,"n":2.25e10},{"s":"ΔNₑ 25.8 GHz (eq)","h":1.22,"n":1.89e10},{"s":"ΔNₑ 25.8 GHz (eq)","h":1.522,"n":1.47e10},{"s":"ΔNₑ 25.8 GHz (eq)","h":1.763,"n":1.25e10},{"s":"ΔNₑ 25.8 GHz (eq)","h":2.042,"n":1.02e10},{"s":"ΔNₑ 25.8 GHz (eq)","h":2.366,"n":8.27e9},{"s":"ΔNₑ 25.8 GHz (eq)","h":2.661,"n":7.12e9},{"s":"ΔNₑ 25.8 GHz (eq)","h":2.82,"n":6.33e9},{"s":"ΔNₑ 25.8 GHz (eq)","h":2.993,"n":5.29e9},{"s":"ΔNₑ 25.8 GHz (eq)","h":3.174,"n":4.18e9},{"s":"ΔNₑ 25.8 GHz (eq)","h":3.368,"n":3.29e9},{"s":"ΔNₑ 25.8 GHz (eq)","h":3.587,"n":2.24e9},{"s":"ΔNₑ 25.8 GHz (eq)","h":3.9,"n":1.49e9},{"s":"ΔNₑ 25.8 GHz (eq)","h":4.245,"n":9.53e8},{"s":"ΔNₑ 25.8 GHz (eq)","h":4.464,"n":4.94e8},{"s":"ΔNₑ 25.8 GHz (eq)","h":4.54,"n":3.18e8},{"s":"ΔNₑ 25.8 GHz (eq)","h":4.655,"n":2.51e8},{"s":"ΔNₑ 25.8 GHz (eq)","h":5.19,"n":1.82e8},{"s":"ΔNₑ 25.8 GHz (eq)","h":5.506,"n":1.45e8},{"s":"ΔNₑ 25.8 GHz (eq)","h":6.245,"n":1.27e8},{"s":"ΔNₑ 25.8 GHz (eq)","h":7.145,"n":1.09e8},{"s":"ΔNₑ 25.8 GHz (eq)","h":8.31,"n":9.8e7},{"s":"ΔNₑ 25.8 GHz (eq)","h":10,"n":8.38e7},{"s":"ΔNₑ 25.8 GHz (eq)","h":12.35,"n":7.73e7},{"s":"ΔNₑ 25.8 GHz (eq)","h":15.58,"n":6.98e7},{"s":"ΔNₑ 25.8 GHz (eq)","h":19.66,"n":6.1e7},{"s":"ΔNₑ 25.8 GHz (eq)","h":23.77,"n":5.32e7},{"s":"ΔNₑ 25.8 GHz (eq)","h":30.0,"n":4.64e7},{"s":"ΔNₑ 25.8 GHz (eq)","h":30.3,"n":3.92e7},{"s":"ΔNₑ 25.8 GHz (eq)","h":38.65,"n":3.09e7},{"s":"ΔNₑ 25.8 GHz (eq)","h":40.33,"n":2.99e7},{"s":"ΔNₑ 25.8 GHz (eq)","h":41.57,"n":3.42e7},{"s":"ΔNₑ 25.8 GHz (eq)","h":47.6,"n":3.09e7},{"s":"ΔNₑ 25.8 GHz (eq)","h":47.9,"n":2.52e7},{"s":"ΔNₑ 25.8 GHz (eq)","h":52.85,"n":2.44e7},{"s":"ΔNₑ 25.8 GHz (eq)","h":59.5,"n":2.25e7},{"s":"ΔNₑ 25.8 GHz (eq)","h":59.7,"n":2.05e7},{"s":"ΔNₑ 25.8 GHz (eq)","h":75.9,"n":1.82e7},{"s":"ΔNₑ 25.8 GHz (eq)","h":76.1,"n":1.68e7},{"s":"ΔNₑ 25.8 GHz (eq)","h":93.8,"n":1.53e7},{"s":"ΔNₑ 25.8 GHz (eq)","h":94.8,"n":1.86e7},{"s":"ΔNₑ 25.8 GHz (eq)","h":112.2,"n":1.68e7},{"s":"ΔNₑ 25.8 GHz (eq)","h":113.5,"n":1.99e7},{"s":"ΔNₑ 25.8 GHz (eq)","h":131.5,"n":1.76e7},{"s":"ΔNₑ 25.8 GHz (eq)","h":133,"n":2.13e7},{"s":"ΔNₑ 25.8 GHz (eq)","h":147.8,"n":1.68e7},{"s":"ΔNₑ 25.8 GHz (eq)","h":162.5,"n":1.86e7},{"s":"ΔNₑ 25.8 GHz (eq)","h":176.8,"n":1.57e7},{"s":"ΔNₑ 25.8 GHz (eq)","h":196.5,"n":1.73e7},{"s":"ΔNₑ 25.8 GHz (eq)","h":242.8,"n":1.46e7},{"s":"ΔNₑ 25.8 GHz (eq)","h":299.9,"n":1.57e7},{"s":"ΔNₑ 25.8 GHz (eq)","h":370.5,"n":1.32e7},{"s":"ΔNₑ 25.8 GHz (eq)","h":457.5,"n":1.24e7},{"s":"ΔNₑ 25.8 GHz (eq)","h":565.1,"n":1.08e7},{"s":"ΔNₑ 25.8 GHz (eq)","h":776,"n":8.2e6},

{"s":"ΔNₚ 25.8 GHz (eq)","h":0.0873,"n":4.54e13},{"s":"ΔNₚ 25.8 GHz (eq)","h":0.1012,"n":3.32e12},{"s":"ΔNₚ 25.8 GHz (eq)","h":0.1089,"n":1.01e12},{"s":"ΔNₚ 25.8 GHz (eq)","h":0.1173,"n":4.15e11},{"s":"ΔNₚ 25.8 GHz (eq)","h":0.124,"n":2.29e11},{"s":"ΔNₚ 25.8 GHz (eq)","h":0.1312,"n":1.42e11},{"s":"ΔNₚ 25.8 GHz (eq)","h":0.136,"n":9.4e10},{"s":"ΔNₚ 25.8 GHz (eq)","h":0.1411,"n":5.18e10},{"s":"ΔNₚ 25.8 GHz (eq)","h":0.1492,"n":2.39e10},{"s":"ΔNₚ 25.8 GHz (eq)","h":0.1522,"n":1.88e10},{"s":"ΔNₚ 25.8 GHz (eq)","h":0.1586,"n":9.64e9},{"s":"ΔNₚ 25.8 GHz (eq)","h":0.1675,"n":6.78e9},{"s":"ΔNₚ 25.8 GHz (eq)","h":0.177,"n":4.96e9},{"s":"ΔNₚ 25.8 GHz (eq)","h":0.1872,"n":3.48e9},{"s":"ΔNₚ 25.8 GHz (eq)","h":0.1977,"n":2.55e9},{"s":"ΔNₚ 25.8 GHz (eq)","h":0.212,"n":1.87e9},{"s":"ΔNₚ 25.8 GHz (eq)","h":0.227,"n":1.31e9},{"s":"ΔNₚ 25.8 GHz (eq)","h":0.243,"n":1.05e9},{"s":"ΔNₚ 25.8 GHz (eq)","h":0.291,"n":8.99e8},{"s":"ΔNₚ 25.8 GHz (eq)","h":0.3034,"n":1.15e9},{"s":"ΔNₚ 25.8 GHz (eq)","h":0.325,"n":2.04e9},{"s":"ΔNₚ 25.8 GHz (eq)","h":0.3484,"n":3.8e9},{"s":"ΔNₚ 25.8 GHz (eq)","h":0.363,"n":4.34e9},{"s":"ΔNₚ 25.8 GHz (eq)","h":0.3945,"n":5.42e9},{"s":"ΔNₚ 25.8 GHz (eq)","h":0.4285,"n":6.19e9},{"s":"ΔNₚ 25.8 GHz (eq)","h":0.4527,"n":7.73e9},{"s":"ΔNₚ 25.8 GHz (eq)","h":0.4915,"n":1.05e10},{"s":"ΔNₚ 25.8 GHz (eq)","h":0.534,"n":1.38e10},{"s":"ΔNₚ 25.8 GHz (eq)","h":0.58,"n":1.68e10},{"s":"ΔNₚ 25.8 GHz (eq)","h":0.6484,"n":2.05e10},{"s":"ΔNₚ 25.8 GHz (eq)","h":0.714,"n":2.34e10},{"s":"ΔNₚ 25.8 GHz (eq)","h":0.8083,"n":2.51e10},
{"s":"ΔNₚ 25.8 GHz (eq)","h":1.0,"n":2.47e10},{"s":"ΔNₚ 25.8 GHz (eq)","h":1.069,"n":2.25e10},{"s":"ΔNₚ 25.8 GHz (eq)","h":1.22,"n":1.89e10},{"s":"ΔNₚ 25.8 GHz (eq)","h":1.522,"n":1.47e10},{"s":"ΔNₚ 25.8 GHz (eq)","h":1.763,"n":1.25e10},{"s":"ΔNₚ 25.8 GHz (eq)","h":2.042,"n":1.02e10},{"s":"ΔNₚ 25.8 GHz (eq)","h":2.366,"n":8.27e9},{"s":"ΔNₚ 25.8 GHz (eq)","h":2.661,"n":7.12e9},{"s":"ΔNₚ 25.8 GHz (eq)","h":2.82,"n":6.33e9},{"s":"ΔNₚ 25.8 GHz (eq)","h":2.993,"n":5.29e9},{"s":"ΔNₚ 25.8 GHz (eq)","h":3.174,"n":4.18e9},{"s":"ΔNₚ 25.8 GHz (eq)","h":3.368,"n":3.29e9},{"s":"ΔNₚ 25.8 GHz (eq)","h":3.587,"n":2.24e9},{"s":"ΔNₚ 25.8 GHz (eq)","h":3.9,"n":1.49e9},{"s":"ΔNₚ 25.8 GHz (eq)","h":4.245,"n":9.53e8},{"s":"ΔNₚ 25.8 GHz (eq)","h":4.464,"n":4.94e8},{"s":"ΔNₚ 25.8 GHz (eq)","h":4.54,"n":3.18e8},{"s":"ΔNₚ 25.8 GHz (eq)","h":4.655,"n":2.51e8},{"s":"ΔNₚ 25.8 GHz (eq)","h":5.19,"n":1.82e8},{"s":"ΔNₚ 25.8 GHz (eq)","h":5.506,"n":1.45e8},{"s":"ΔNₚ 25.8 GHz (eq)","h":6.245,"n":1.27e8},{"s":"ΔNₚ 25.8 GHz (eq)","h":7.145,"n":1.09e8},{"s":"ΔNₚ 25.8 GHz (eq)","h":8.31,"n":9.8e7},{"s":"ΔNₚ 25.8 GHz (eq)","h":10,"n":8.38e7},{"s":"ΔNₚ 25.8 GHz (eq)","h":12.35,"n":7.73e7},{"s":"ΔNₚ 25.8 GHz (eq)","h":15.58,"n":6.98e7},{"s":"ΔNₚ 25.8 GHz (eq)","h":19.66,"n":6.1e7},{"s":"ΔNₚ 25.8 GHz (eq)","h":23.77,"n":5.32e7},{"s":"ΔNₚ 25.8 GHz (eq)","h":30.0,"n":4.64e7},{"s":"ΔNₚ 25.8 GHz (eq)","h":30.3,"n":3.92e7},{"s":"ΔNₚ 25.8 GHz (eq)","h":38.65,"n":3.09e7},{"s":"ΔNₚ 25.8 GHz (eq)","h":40.33,"n":2.99e7},{"s":"ΔNₚ 25.8 GHz (eq)","h":41.57,"n":3.42e7},{"s":"ΔNₚ 25.8 GHz (eq)","h":47.6,"n":3.09e7},{"s":"ΔNₚ 25.8 GHz (eq)","h":47.9,"n":2.52e7},{"s":"ΔNₚ 25.8 GHz (eq)","h":52.85,"n":2.44e7},{"s":"ΔNₚ 25.8 GHz (eq)","h":59.5,"n":2.25e7},{"s":"ΔNₚ 25.8 GHz (eq)","h":59.7,"n":2.05e7},{"s":"ΔNₚ 25.8 GHz (eq)","h":75.9,"n":1.82e7},{"s":"ΔNₚ 25.8 GHz (eq)","h":76.1,"n":1.68e7},{"s":"ΔNₚ 25.8 GHz (eq)","h":93.8,"n":1.53e7},{"s":"ΔNₚ 25.8 GHz (eq)","h":94.8,"n":1.86e7},{"s":"ΔNₚ 25.8 GHz (eq)","h":112.2,"n":1.68e7},{"s":"ΔNₚ 25.8 GHz (eq)","h":113.5,"n":1.99e7},{"s":"ΔNₚ 25.8 GHz (eq)","h":131.5,"n":1.76e7},{"s":"ΔNₚ 25.8 GHz (eq)","h":133,"n":2.13e7},{"s":"ΔNₚ 25.8 GHz (eq)","h":147.8,"n":1.68e7},{"s":"ΔNₚ 25.8 GHz (eq)","h":162.5,"n":1.86e7},{"s":"ΔNₚ 25.8 GHz (eq)","h":176.8,"n":1.57e7},{"s":"ΔNₚ 25.8 GHz (eq)","h":196.5,"n":1.73e7},{"s":"ΔNₚ 25.8 GHz (eq)","h":242.8,"n":1.46e7},{"s":"ΔNₚ 25.8 GHz (eq)","h":299.9,"n":1.57e7},{"s":"ΔNₚ 25.8 GHz (eq)","h":370.5,"n":1.32e7},{"s":"ΔNₚ 25.8 GHz (eq)","h":457.5,"n":1.24e7},{"s":"ΔNₚ 25.8 GHz (eq)","h":565.1,"n":1.08e7},{"s":"ΔNₚ 25.8 GHz (eq)","h":776,"n":8.2e6},

{"s":"ΔNₑ 25.8 GHz (pol)","h":0.0873,"n":4.6e13},{"s":"ΔNₑ 25.8 GHz (pol)","h":0.103,"n":4.3e12},{"s":"ΔNₑ 25.8 GHz (pol)","h":0.1195,"n":2.12e12},{"s":"ΔNₑ 25.8 GHz (pol)","h":0.1312,"n":1.42e12},{"s":"ΔNₑ 25.8 GHz (pol)","h":0.1549,"n":6.6e11},{"s":"ΔNₑ 25.8 GHz (pol)","h":0.173,"n":4.35e11},{"s":"ΔNₑ 25.8 GHz (pol)","h":0.2005,"n":2.55e11},{"s":"ΔNₑ 25.8 GHz (pol)","h":0.233,"n":1.41e11},{"s":"ΔNₑ 25.8 GHz (pol)","h":0.29,"n":6.7e10},{"s":"ΔNₑ 25.8 GHz (pol)","h":0.356,"n":4.5e10},{"s":"ΔNₑ 25.8 GHz (pol)","h":0.4365,"n":2.28e10},{"s":"ΔNₑ 25.8 GHz (pol)","h":0.54,"n":2.22e10},{"s":"ΔNₑ 25.8 GHz (pol)","h":0.679,"n":2.6e10},{"s":"ΔNₑ 25.8 GHz (pol)","h":0.817,"n":2.68e10},
{"s":"ΔNₑ 25.8 GHz (pol)","h":1.0,"n":2.62e10},{"s":"ΔNₑ 25.8 GHz (pol)","h":1.069,"n":2.4e10},{"s":"ΔNₑ 25.8 GHz (pol)","h":1.22,"n":2.0e10},{"s":"ΔNₑ 25.8 GHz (pol)","h":1.522,"n":1.56e10},{"s":"ΔNₑ 25.8 GHz (pol)","h":1.763,"n":1.33e10},{"s":"ΔNₑ 25.8 GHz (pol)","h":2.042,"n":1.08e10},{"s":"ΔNₑ 25.8 GHz (pol)","h":2.366,"n":8.8e9},{"s":"ΔNₑ 25.8 GHz (pol)","h":2.661,"n":7.55e9},{"s":"ΔNₑ 25.8 GHz (pol)","h":2.82,"n":6.7e9},{"s":"ΔNₑ 25.8 GHz (pol)","h":2.993,"n":5.6e9},{"s":"ΔNₑ 25.8 GHz (pol)","h":3.174,"n":4.4e9},{"s":"ΔNₑ 25.8 GHz (pol)","h":3.368,"n":3.45e9},{"s":"ΔNₑ 25.8 GHz (pol)","h":3.587,"n":2.35e9},{"s":"ΔNₑ 25.8 GHz (pol)","h":3.9,"n":1.56e9},{"s":"ΔNₑ 25.8 GHz (pol)","h":4.245,"n":1.0e9},{"s":"ΔNₑ 25.8 GHz (pol)","h":4.464,"n":5.2e8},{"s":"ΔNₑ 25.8 GHz (pol)","h":4.54,"n":3.35e8},{"s":"ΔNₑ 25.8 GHz (pol)","h":4.655,"n":2.65e8},{"s":"ΔNₑ 25.8 GHz (pol)","h":5.19,"n":1.92e8},{"s":"ΔNₑ 25.8 GHz (pol)","h":5.506,"n":1.53e8},{"s":"ΔNₑ 25.8 GHz (pol)","h":6.245,"n":1.32e8},{"s":"ΔNₑ 25.8 GHz (pol)","h":7.145,"n":1.2e8},{"s":"ΔNₑ 25.8 GHz (pol)","h":9.04,"n":1.05e8},{"s":"ΔNₑ 25.8 GHz (pol)","h":10.21,"n":9.8e7},{"s":"ΔNₑ 25.8 GHz (pol)","h":12.61,"n":8.85e7},{"s":"ΔNₑ 25.8 GHz (pol)","h":17.69,"n":7.47e7},{"s":"ΔNₑ 25.8 GHz (pol)","h":23.77,"n":6.3e7},{"s":"ΔNₑ 25.8 GHz (pol)","h":30.64,"n":5.32e7},{"s":"ΔNₑ 25.8 GHz (pol)","h":34.06,"n":4.34e7},{"s":"ΔNₑ 25.8 GHz (pol)","h":37.84,"n":4.05e7},{"s":"ΔNₑ 25.8 GHz (pol)","h":40.33,"n":3.54e7},{"s":"ΔNₑ 25.8 GHz (pol)","h":44.77,"n":3.66e7},{"s":"ΔNₑ 25.8 GHz (pol)","h":47.7,"n":3.54e7},{"s":"ΔNₑ 25.8 GHz (pol)","h":52.5,"n":3.09e7},{"s":"ΔNₑ 25.8 GHz (pol)","h":58.9,"n":2.83e7},{"s":"ΔNₑ 25.8 GHz (pol)","h":59.57,"n":3.2e7},{"s":"ΔNₑ 25.8 GHz (pol)","h":69.8,"n":2.52e7},{"s":"ΔNₑ 25.8 GHz (pol)","h":75.95,"n":2.31e7},{"s":"ΔNₑ 25.8 GHz (pol)","h":77.6,"n":2.7e7},{"s":"ΔNₑ 25.8 GHz (pol)","h":93.8,"n":2.28e7},{"s":"ΔNₑ 25.8 GHz (pol)","h":95.8,"n":2.35e7},{"s":"ΔNₑ 25.8 GHz (pol)","h":113.5,"n":2.2e7},{"s":"ΔNₑ 25.8 GHz (pol)","h":117.1,"n":2.28e7},{"s":"ΔNₑ 25.8 GHz (pol)","h":146.2,"n":2.05e7},{"s":"ΔNₑ 25.8 GHz (pol)","h":176.8,"n":1.99e7},{"s":"ΔNₑ 25.8 GHz (pol)","h":218.5,"n":1.86e7},{"s":"ΔNₑ 25.8 GHz (pol)","h":299.9,"n":1.73e7},{"s":"ΔNₑ 25.8 GHz (pol)","h":394.8,"n":1.51e7},{"s":"ΔNₑ 25.8 GHz (pol)","h":457.5,"n":1.37e7},{"s":"ΔNₑ 25.8 GHz (pol)","h":565.1,"n":1.15e7},{"s":"ΔNₑ 25.8 GHz (pol)","h":776,"n":9.1e6},

{"s":"ΔNₚ 25.8 GHz (pol)","h":0.0873,"n":4.54e13},{"s":"ΔNₚ 25.8 GHz (pol)","h":0.1012,"n":3.32e12},{"s":"ΔNₚ 25.8 GHz (pol)","h":0.1089,"n":1.01e12},{"s":"ΔNₚ 25.8 GHz (pol)","h":0.1173,"n":4.15e11},{"s":"ΔNₚ 25.8 GHz (pol)","h":0.124,"n":2.29e11},{"s":"ΔNₚ 25.8 GHz (pol)","h":0.1312,"n":1.42e11},{"s":"ΔNₚ 25.8 GHz (pol)","h":0.136,"n":9.4e10},{"s":"ΔNₚ 25.8 GHz (pol)","h":0.1411,"n":5.18e10},{"s":"ΔNₚ 25.8 GHz (pol)","h":0.1492,"n":2.39e10},{"s":"ΔNₚ 25.8 GHz (pol)","h":0.1522,"n":1.88e10},{"s":"ΔNₚ 25.8 GHz (pol)","h":0.1586,"n":9.64e9},{"s":"ΔNₚ 25.8 GHz (pol)","h":0.1675,"n":6.78e9},{"s":"ΔNₚ 25.8 GHz (pol)","h":0.177,"n":4.96e9},{"s":"ΔNₚ 25.8 GHz (pol)","h":0.1872,"n":3.48e9},{"s":"ΔNₚ 25.8 GHz (pol)","h":0.1977,"n":2.55e9},{"s":"ΔNₚ 25.8 GHz (pol)","h":0.212,"n":1.87e9},{"s":"ΔNₚ 25.8 GHz (pol)","h":0.227,"n":1.31e9},{"s":"ΔNₚ 25.8 GHz (pol)","h":0.243,"n":1.05e9},{"s":"ΔNₚ 25.8 GHz (pol)","h":0.295,"n":8.8e8},{"s":"ΔNₚ 25.8 GHz (pol)","h":0.31,"n":1.15e9},{"s":"ΔNₚ 25.8 GHz (pol)","h":0.332,"n":2.0e9},{"s":"ΔNₚ 25.8 GHz (pol)","h":0.355,"n":3.7e9},{"s":"ΔNₚ 25.8 GHz (pol)","h":0.37,"n":4.3e9},{"s":"ΔNₚ 25.8 GHz (pol)","h":0.4,"n":5.3e9},{"s":"ΔNₚ 25.8 GHz (pol)","h":0.435,"n":6.1e9},{"s":"ΔNₚ 25.8 GHz (pol)","h":0.46,"n":7.6e9},{"s":"ΔNₚ 25.8 GHz (pol)","h":0.5,"n":1.03e10},{"s":"ΔNₚ 25.8 GHz (pol)","h":0.545,"n":1.36e10},{"s":"ΔNₚ 25.8 GHz (pol)","h":0.59,"n":1.66e10},{"s":"ΔNₚ 25.8 GHz (pol)","h":0.66,"n":2.02e10},{"s":"ΔNₚ 25.8 GHz (pol)","h":0.725,"n":2.32e10},{"s":"ΔNₚ 25.8 GHz (pol)","h":0.82,"n":2.55e10},
{"s":"ΔNₚ 25.8 GHz (pol)","h":1.0,"n":2.62e10},{"s":"ΔNₚ 25.8 GHz (pol)","h":1.069,"n":2.4e10},{"s":"ΔNₚ 25.8 GHz (pol)","h":1.22,"n":2.0e10},{"s":"ΔNₚ 25.8 GHz (pol)","h":1.522,"n":1.56e10},{"s":"ΔNₚ 25.8 GHz (pol)","h":1.763,"n":1.33e10},{"s":"ΔNₚ 25.8 GHz (pol)","h":2.042,"n":1.08e10},{"s":"ΔNₚ 25.8 GHz (pol)","h":2.366,"n":8.8e9},{"s":"ΔNₚ 25.8 GHz (pol)","h":2.661,"n":7.55e9},{"s":"ΔNₚ 25.8 GHz (pol)","h":2.82,"n":6.7e9},{"s":"ΔNₚ 25.8 GHz (pol)","h":2.993,"n":5.6e9},{"s":"ΔNₚ 25.8 GHz (pol)","h":3.174,"n":4.4e9},{"s":"ΔNₚ 25.8 GHz (pol)","h":3.368,"n":3.45e9},{"s":"ΔNₚ 25.8 GHz (pol)","h":3.587,"n":2.35e9},{"s":"ΔNₚ 25.8 GHz (pol)","h":3.9,"n":1.56e9},{"s":"ΔNₚ 25.8 GHz (pol)","h":4.245,"n":1.0e9},{"s":"ΔNₚ 25.8 GHz (pol)","h":4.464,"n":5.2e8},{"s":"ΔNₚ 25.8 GHz (pol)","h":4.54,"n":3.35e8},{"s":"ΔNₚ 25.8 GHz (pol)","h":4.655,"n":2.65e8},{"s":"ΔNₚ 25.8 GHz (pol)","h":5.19,"n":1.92e8},{"s":"ΔNₚ 25.8 GHz (pol)","h":5.506,"n":1.53e8},{"s":"ΔNₚ 25.8 GHz (pol)","h":6.245,"n":1.32e8},{"s":"ΔNₚ 25.8 GHz (pol)","h":7.145,"n":1.2e8},{"s":"ΔNₚ 25.8 GHz (pol)","h":9.04,"n":1.05e8},{"s":"ΔNₚ 25.8 GHz (pol)","h":10.21,"n":9.8e7},{"s":"ΔNₚ 25.8 GHz (pol)","h":12.61,"n":8.85e7},{"s":"ΔNₚ 25.8 GHz (pol)","h":17.69,"n":7.47e7},{"s":"ΔNₚ 25.8 GHz (pol)","h":23.77,"n":6.3e7},{"s":"ΔNₚ 25.8 GHz (pol)","h":30.64,"n":5.32e7},{"s":"ΔNₚ 25.8 GHz (pol)","h":34.06,"n":4.34e7},{"s":"ΔNₚ 25.8 GHz (pol)","h":37.84,"n":4.05e7},{"s":"ΔNₚ 25.8 GHz (pol)","h":40.33,"n":3.54e7},{"s":"ΔNₚ 25.8 GHz (pol)","h":44.77,"n":3.66e7},{"s":"ΔNₚ 25.8 GHz (pol)","h":47.7,"n":3.54e7},{"s":"ΔNₚ 25.8 GHz (pol)","h":52.5,"n":3.09e7},{"s":"ΔNₚ 25.8 GHz (pol)","h":58.9,"n":2.83e7},{"s":"ΔNₚ 25.8 GHz (pol)","h":59.57,"n":3.2e7},{"s":"ΔNₚ 25.8 GHz (pol)","h":69.8,"n":2.52e7},{"s":"ΔNₚ 25.8 GHz (pol)","h":75.95,"n":2.31e7},{"s":"ΔNₚ 25.8 GHz (pol)","h":77.6,"n":2.7e7},{"s":"ΔNₚ 25.8 GHz (pol)","h":93.8,"n":2.28e7},{"s":"ΔNₚ 25.8 GHz (pol)","h":95.8,"n":2.35e7},{"s":"ΔNₚ 25.8 GHz (pol)","h":113.5,"n":2.2e7},{"s":"ΔNₚ 25.8 GHz (pol)","h":117.1,"n":2.28e7},{"s":"ΔNₚ 25.8 GHz (pol)","h":146.2,"n":2.05e7},{"s":"ΔNₚ 25.8 GHz (pol)","h":176.8,"n":1.99e7},{"s":"ΔNₚ 25.8 GHz (pol)","h":218.5,"n":1.86e7},{"s":"ΔNₚ 25.8 GHz (pol)","h":299.9,"n":1.73e7},{"s":"ΔNₚ 25.8 GHz (pol)","h":394.8,"n":1.51e7},{"s":"ΔNₚ 25.8 GHz (pol)","h":457.5,"n":1.37e7},{"s":"ΔNₚ 25.8 GHz (pol)","h":565.1,"n":1.15e7},{"s":"ΔNₚ 25.8 GHz (pol)","h":776,"n":9.1e6}
]},
"mark": {"type": "line", "strokeWidth": 7.5, "clip": true, "strokeJoin": "round"},
"encoding": {
  "x": {"field": "h", "type": "quantitative",
        "scale": {"type": "log", "domain": [0.0847, 0.1, 1, 10, 782], "range": [0, 20, 298, 997, 2050], "nice": false},
        "axis": {"orient": "bottom", "values": [0.1, 1, 10, 40, 100, 300, 700], "format": "~g", "title": "Altitude [Mm]", "labelPadding": 83, "labelBaseline": "alphabetic", "titleY": 199, "titleBaseline": "alphabetic"}},
  "y": {"field": "n", "type": "quantitative",
        "scale": {"type": "log", "domain": [1e6, 1e14], "nice": false},
        "axis": {"values": [1e6, 1e8, 1e10, 1e12, 1e14], "labelExpr": "datum.value > 5e13 ? '10¹⁴' : datum.value > 5e11 ? '10¹²' : datum.value > 5e9 ? '10¹⁰' : datum.value > 5e7 ? '10⁸' : '10⁶'", "title": "ΔN [cm⁻³]", "titleX": -278, "titleY": 692, "titleAngle": 270, "titleAlign": "center", "titleBaseline": "middle", "labelPadding": 21, "labelBaseline": "middle"}},
  "color": {"field": "s", "type": "nominal",
        "scale": {"domain": ["ΔNₑ 18.3 GHz (eq)", "ΔNₚ 18.3 GHz (eq)", "ΔNₑ 18.3 GHz (pol)", "ΔNₚ 18.3 GHz (pol)", "ΔNₑ 25.8 GHz (eq)", "ΔNₚ 25.8 GHz (eq)", "ΔNₑ 25.8 GHz (pol)", "ΔNₚ 25.8 GHz (pol)"],
                  "range": ["#008000", "#008000", "#008000", "#008000", "#ff0000", "#ff0000", "#ff0000", "#ff0000"]},
        "legend": {"orient": "none", "legendX": 1375, "legendY": 25, "title": null, "labelFont": "DejaVu Sans", "labelFontSize": 49, "labelColor": "black", "labelLimit": 1000, "symbolType": "M-1.6,0L1.6,0", "symbolSize": 4489, "symbolStrokeWidth": 8, "symbolOffset": 21.5, "labelOffset": 55, "rowPadding": 17, "padding": 12, "fillColor": "white", "strokeColor": "#d6d6d6", "cornerRadius": 10}},
  "strokeDash": {"field": "s", "type": "nominal",
        "scale": {"domain": ["ΔNₑ 18.3 GHz (eq)", "ΔNₚ 18.3 GHz (eq)", "ΔNₑ 18.3 GHz (pol)", "ΔNₚ 18.3 GHz (pol)", "ΔNₑ 25.8 GHz (eq)", "ΔNₚ 25.8 GHz (eq)", "ΔNₑ 25.8 GHz (pol)", "ΔNₚ 25.8 GHz (pol)"],
                  "range": [[1, 0], [31, 13], [53, 13, 9, 13], [9, 13.5], [1, 0], [31, 13], [53, 13, 9, 13], [9, 13.5]]},
        "legend": {"orient": "none", "legendX": 1375, "legendY": 25, "title": null, "labelFont": "DejaVu Sans", "labelFontSize": 49, "labelColor": "black", "labelLimit": 1000, "symbolType": "M-1.6,0L1.6,0", "symbolSize": 4489, "symbolStrokeWidth": 8, "symbolOffset": 21.5, "labelOffset": 55, "rowPadding": 17, "padding": 12, "fillColor": "white", "strokeColor": "#d6d6d6", "cornerRadius": 10}}
}
},
{
"data": {"values": [{"h": 40}]},
"mark": {"type": "rule", "color": "#0000ff", "strokeWidth": 7},
"encoding": {
  "x": {"field": "h", "type": "quantitative",
        "scale": {"type": "log", "domain": [0.0847, 0.1, 1, 10, 782], "range": [0, 20, 298, 997, 2050], "nice": false},
        "axis": {"orient": "top", "values": [0.0847, 69.6, 208.8, 556.8], "labelExpr": "datum.value < 1 ? '1.0' : datum.value < 100 ? '1.1' : datum.value < 300 ? '1.3' : '1.8'", "title": "Altitude [R⊙]", "labelPadding": 35, "labelBaseline": "alphabetic", "titleY": -140, "titleBaseline": "alphabetic"}}
}
}
],
"resolve": {"scale": {"x": "independent"}}
}
